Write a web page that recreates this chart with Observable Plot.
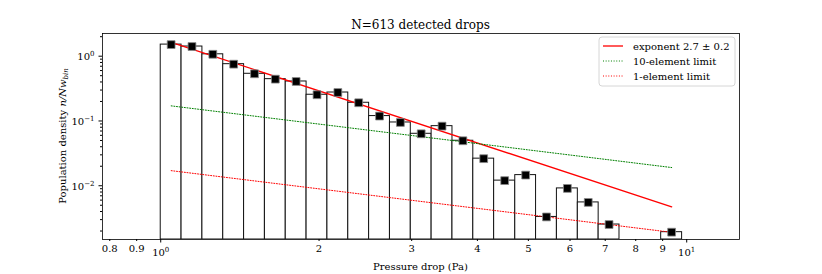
<!DOCTYPE html>
<html><head><meta charset="utf-8">
<script src="https://cdn.jsdelivr.net/npm/d3@7"></script>
<script src="https://cdn.jsdelivr.net/npm/@observablehq/plot@0.6"></script>
<style>
body{margin:0;background:#fff}
#chart svg{font-family:"DejaVu Serif",serif;overflow:visible}
</style>
</head><body><div id="chart"></div>
<script>
// ---- data ----
const binEdges = [1.000, 1.0955, 1.2002, 1.3148, 1.4404, 1.5779, 1.7286, 1.8937, 2.0746, 2.2728,
  2.4900, 2.7278, 2.9883, 3.2737, 3.5864, 3.9289, 4.3042, 4.7212, 5.1713, 5.6653,
  6.2087, 6.8013, 7.4509, 8.1626, 8.9423, 9.8005];
const density = [1.51, 1.41, 1.07, 0.753, 0.535, 0.442, 0.407, 0.254, 0.275, 0.191,
  0.119, 0.0948, 0.0634, 0.0832, 0.0495, 0.0262, 0.0120, 0.0146, 0.0033, 0.00910,
  0.00553, 0.00252, null, null, 0.00192];
const fitX = [1.047, 9.363];
const fitY = [1.64, 0.00472];
const limitX = [1.047, 9.363];
const limit10 = [0.171, 0.0191];
const limit1 = [0.0171, 0.00191];
const xMajorTicks = [1, 10];
const xMajorExp = ["0", "1"];
const xMinorTicks = [0.8, 0.9, 2, 3, 4, 5, 6, 7, 8, 9];
const xMinorLabels = ["0.8", "0.9", "2", "3", "4", "5", "6", "7", "8", "9"];
const yMajorTicks = [1, 0.1, 0.01];
const yMajorExp = ["0", "\u22121", "\u22122"];
const yMinorTicks = [0.002,0.003,0.004,0.005,0.006,0.007,0.008,0.009,
  0.02,0.03,0.04,0.05,0.06,0.07,0.08,0.09,0.2,0.3,0.4,0.5,0.6,0.7,0.8,0.9,2];
const legendLabels = ["exponent 2.7 \u00b1 0.2", "10-element limit", "1-element limit"];
const titleText = "N=613 detected drops";
const xLabel = "Pressure drop (Pa)";

const bins = density.map((d, i) => ({x1: binEdges[i], x2: binEdges[i+1], y: d,
  xc: Math.sqrt(binEdges[i]*binEdges[i+1])})).filter(d => d.y != null);

const xDomain = [0.775, 12.6];
const yDomain = [0.00148, 2.24];
const W = 822, H = 274, ML = 102, MR = 83, MT = 33, MB = 35;
const pair = {length: 2};
const idx = a => a.map((_, i) => i);
const noLabel = () => "";

const chart = Plot.plot({
  width: W, height: H,
  marginLeft: ML, marginRight: MR, marginTop: MT, marginBottom: MB,
  x: {type: "log", domain: xDomain},
  y: {type: "log", domain: yDomain},
  style: {fontFamily: "DejaVu Serif, serif", fontSize: "10px", background: "white", color: "black"},
  marks: [
    Plot.rect(bins, {x1: "x1", x2: "x2", y1: () => yDomain[0], y2: "y", fill: "white", stroke: "#111", strokeWidth: 1, clip: true}),
    Plot.line(pair, {x: (d, i) => fitX[i], y: (d, i) => fitY[i], stroke: "red", strokeWidth: 1.3}),
    Plot.line(pair, {x: (d, i) => limitX[i], y: (d, i) => limit10[i], stroke: "green", strokeWidth: 1, strokeDasharray: "1,1.65"}),
    Plot.line(pair, {x: (d, i) => limitX[i], y: (d, i) => limit1[i], stroke: "red", strokeWidth: 1, strokeDasharray: "1,1.65"}),
    Plot.dot(bins, {x: "xc", y: "y", symbol: "square", r: 4.4, fill: "black", stroke: "#888", strokeWidth: 0.8}),
    Plot.frame({stroke: "black", strokeWidth: 0.8}),
    Plot.axisX({ticks: xMinorTicks, tickSize: 2, tickFormat: noLabel, label: null}),
    Plot.axisX({ticks: xMajorTicks, tickSize: 3.5, tickFormat: noLabel, label: null}),
    Plot.axisY({ticks: yMinorTicks, tickSize: 2, tickFormat: noLabel, label: null}),
    Plot.axisY({ticks: yMajorTicks, tickSize: 3.5, tickFormat: noLabel, label: null}),
    Plot.text(idx(xMinorTicks), {x: i => xMinorTicks[i], text: i => xMinorLabels[i], frameAnchor: "bottom",
      lineAnchor: "top", dy: 5.4, fill: "black", fontSize: 10}),
    Plot.text(idx(xMajorTicks), {x: i => xMajorTicks[i], text: () => "10", frameAnchor: "bottom",
      lineAnchor: "top", dy: 9.4, fill: "black", fontSize: 10, className: "xmaj"}),
    Plot.text(idx(yMajorTicks), {y: i => yMajorTicks[i], text: () => "10", frameAnchor: "left",
      textAnchor: "end", dx: -8, dy: 1, fill: "black", fontSize: 10, className: "ymaj"})
  ]
});
document.getElementById("chart").appendChild(chart);

const svg = d3.select(chart);
// superscripts for the power-of-ten labels
svg.selectAll(".xmaj text").each(function(d, j) {
  d3.select(this).append("tspan").attr("font-size", 7).attr("dy", -4).text(xMajorExp[j]);
});
svg.selectAll(".ymaj text").each(function(d, j) {
  d3.select(this).append("tspan").attr("font-size", 7).attr("dy", -4).text(yMajorExp[j]);
});
// title
svg.append("text").attr("x", (ML + W - MR) / 2).attr("y", 28.5).attr("text-anchor", "middle")
  .attr("font-size", 12).attr("fill", "black").text(titleText);
// x label
svg.append("text").attr("x", (ML + W - MR) / 2).attr("y", 270).attr("text-anchor", "middle")
  .attr("font-size", 10).attr("fill", "black").text(xLabel);
// y label
const yl = svg.append("text").attr("transform", `translate(66,${(MT + H - MB) / 2}) rotate(-90)`)
  .attr("text-anchor", "middle").attr("font-size", 10).attr("fill", "black");
yl.append("tspan").text("Population density ");
yl.append("tspan").attr("font-style", "italic").text("n/Nw");
yl.append("tspan").attr("font-style", "italic").attr("font-size", 7).attr("dy", 2).text("bin");
// legend
const lg = svg.append("g").attr("text-anchor", "start");
lg.append("rect").attr("x", 599).attr("y", 37).attr("width", 136).attr("height", 49).attr("rx", 3)
  .attr("fill", "white").attr("fill-opacity", 0.8).attr("stroke", "#ccc").attr("stroke-width", 0.8);
const legendStyles = [
  {stroke: "red", dash: null, w: 1.3},
  {stroke: "green", dash: "1,1.65", w: 1},
  {stroke: "red", dash: "1,1.65", w: 1}
];
legendLabels.forEach((t, i) => {
  const yy = 46 + i * 15;
  lg.append("line").attr("x1", 603).attr("x2", 623).attr("y1", yy).attr("y2", yy)
    .attr("stroke", legendStyles[i].stroke).attr("stroke-width", legendStyles[i].w)
    .attr("stroke-dasharray", legendStyles[i].dash);
  lg.append("text").attr("x", 633).attr("y", yy + 3.5).attr("text-anchor", "start")
    .attr("font-size", 10).attr("fill", "black").text(t);
});
</script>
</body></html>
